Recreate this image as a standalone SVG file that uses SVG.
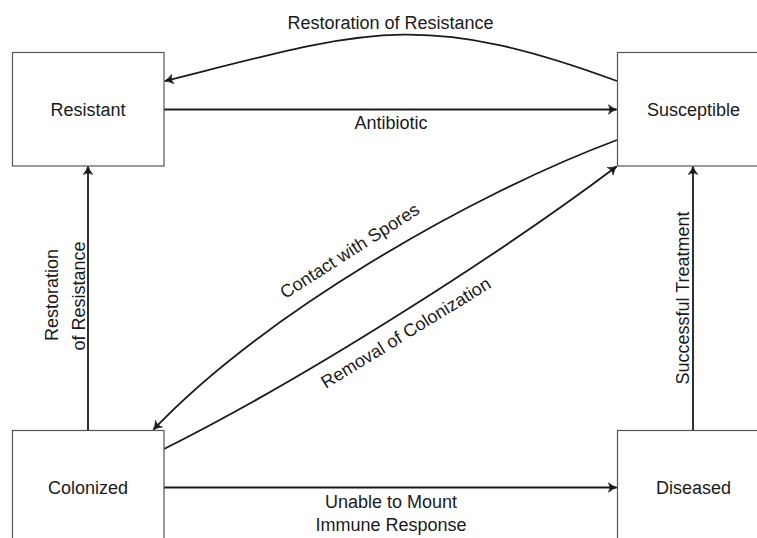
<svg xmlns="http://www.w3.org/2000/svg" width="757" height="538" viewBox="0 0 757 538">
<defs>
<style>
.box{fill:#fff;stroke:#555;stroke-width:1.2}
.lbl{font-family:"Liberation Sans",Arial,sans-serif;font-size:18px;fill:#1a1a1a;text-anchor:middle}
.con{fill:none;stroke:#1a1a1a;stroke-width:1.8}
</style>
<marker id="arr" markerUnits="userSpaceOnUse" viewBox="-10 -6 12 12" refX="0" refY="0" markerWidth="12" markerHeight="12" orient="auto">
<path d="M0.5,0 Q-4,-1.3 -8,-4.8 Q-5.2,0 -8,4.8 Q-4,1.3 0.5,0 Z" fill="#1a1a1a" stroke="#1a1a1a" stroke-width="0.6" stroke-linejoin="round"/>
</marker>
</defs>
<rect width="757" height="538" fill="#fff"/>
<g id="connectors">
<path class="con" d="M617,81 C419,8 362,31.5 165,81" marker-end="url(#arr)"/>
<path class="con" d="M164,109.5 L616.5,109.5" marker-end="url(#arr)"/>
<path class="con" d="M88,430.5 L88,166.5" marker-end="url(#arr)"/>
<path class="con" d="M693,430.5 L693,166.5" marker-end="url(#arr)"/>
<path class="con" d="M164,487.5 L616.5,487.5" marker-end="url(#arr)"/>
<path class="con" d="M617,140 C467,196 263,315 153.5,429.5" marker-end="url(#arr)"/>
<path class="con" d="M164,449 C314,374 507,249 616.5,166.5" marker-end="url(#arr)"/>
<text class="lbl" x="390.5" y="29">Restoration of Resistance</text>
<text class="lbl" x="391" y="129">Antibiotic</text>
<text class="lbl" x="391" y="507.5">Unable to Mount</text>
<text class="lbl" x="391" y="531">Immune Response</text>
<text class="lbl" transform="translate(58,295) rotate(-90)">Restoration</text>
<text class="lbl" transform="translate(84.5,296) rotate(-90)">of Resistance</text>
<text class="lbl" transform="translate(688.5,298) rotate(-90)">Successful Treatment</text>
<text class="lbl" transform="translate(353,256) rotate(-32.5)">Contact with Spores</text>
<text class="lbl" transform="translate(409,338) rotate(-31.5)">Removal of Colonization</text>
</g>
<g id="resistant">
<rect class="box" x="12.5" y="52.5" width="151.5" height="113.5"/>
<text class="lbl" x="88" y="116">Resistant</text>
</g>
<g id="susceptible">
<rect class="box" x="617.5" y="52.5" width="152" height="113.5"/>
<text class="lbl" x="693.5" y="116">Susceptible</text>
</g>
<g id="colonized">
<rect class="box" x="12.5" y="430.5" width="151.5" height="120"/>
<text class="lbl" x="88" y="494">Colonized</text>
</g>
<g id="diseased">
<rect class="box" x="617.5" y="430.5" width="152" height="120"/>
<text class="lbl" x="693.5" y="494">Diseased</text>
</g>
</svg>
